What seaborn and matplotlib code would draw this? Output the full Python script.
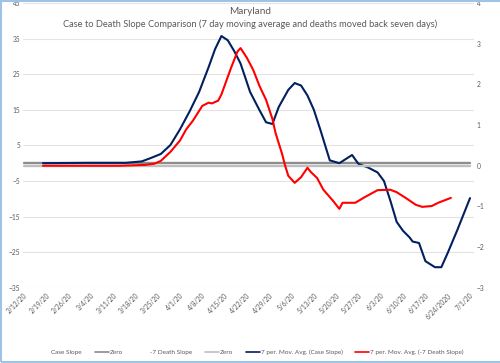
import pandas as pd
import matplotlib
matplotlib.use("Agg")
import matplotlib.pyplot as plt
from matplotlib.lines import Line2D
from matplotlib.patches import Rectangle
import seaborn as sns

# 7 day moving average of the case slope (left axis)
case_dates = ["2020-02-18", "2020-03-03", "2020-03-15", "2020-03-20", "2020-03-23", "2020-03-26",
              "2020-03-29", "2020-04-01", "2020-04-04", "2020-04-07", "2020-04-10", "2020-04-12",
              "2020-04-14", "2020-04-16", "2020-04-18", "2020-04-20", "2020-04-23", "2020-04-26",
              "2020-04-28", "2020-04-30", "2020-05-02", "2020-05-05", "2020-05-07", "2020-05-09",
              "2020-05-11", "2020-05-13", "2020-05-15", "2020-05-18", "2020-05-21", "2020-05-25",
              "2020-05-27", "2020-05-30", "2020-06-02", "2020-06-04", "2020-06-06", "2020-06-08",
              "2020-06-10", "2020-06-12", "2020-06-13", "2020-06-15", "2020-06-17", "2020-06-20",
              "2020-06-22", "2020-06-24", "2020-06-27", "2020-07-01"]
case_avg = [0, 0.1, 0.1, 0.5, 1.5, 2.6,
            5.1, 9.5, 14.5, 20, 27, 32,
            35.7, 34.5, 31.5, 28, 20, 14.8,
            11.5, 11, 15.8, 20.6, 22.5, 21.8,
            19, 15, 9.5, 0.8, 0, 2.3,
            -0.2, -1.2, -2.6, -5, -10.5, -16.5,
            -19, -20.8, -22, -22.4, -27.5, -29.2,
            -29.2, -25.2, -18.8, -9.8]

# 7 day moving average of the death slope moved back seven days (right axis)
death_dates = ["2020-02-18", "2020-03-13", "2020-03-21", "2020-03-24", "2020-03-26", "2020-03-29",
               "2020-04-01", "2020-04-03", "2020-04-05", "2020-04-08", "2020-04-10", "2020-04-11",
               "2020-04-13", "2020-04-14", "2020-04-17", "2020-04-19", "2020-04-20", "2020-04-22",
               "2020-04-24", "2020-04-26", "2020-04-28", "2020-04-30", "2020-05-01", "2020-05-03",
               "2020-05-04", "2020-05-05", "2020-05-07", "2020-05-09", "2020-05-11", "2020-05-12",
               "2020-05-14", "2020-05-16", "2020-05-19", "2020-05-21", "2020-05-22", "2020-05-26",
               "2020-05-29", "2020-06-02", "2020-06-06", "2020-06-08", "2020-06-11", "2020-06-14",
               "2020-06-16", "2020-06-19", "2020-06-21", "2020-06-25"]
death_avg = [0, 0, 0.02, 0.05, 0.12, 0.34,
             0.62, 0.9, 1.1, 1.47, 1.55, 1.53,
             1.6, 1.75, 2.4, 2.8, 2.89, 2.65,
             2.35, 1.95, 1.62, 1.15, 0.8, 0.3,
             0.0, -0.25, -0.42, -0.28, -0.05, -0.15,
             -0.3, -0.59, -0.86, -1.06, -0.91, -0.91,
             -0.77, -0.6, -0.59, -0.65, -0.8, -0.96,
             -1.01, -0.99, -0.91, -0.79]

zero_dates = ["2020-02-12", "2020-07-01"]
zero_vals = [0, 0]

tick_dates = pd.date_range("2020-02-12", "2020-07-01", freq="7D")
tick_labels = ["2/12/20", "2/19/20", "2/26/20", "3/4/20", "3/11/20", "3/18/20", "3/25/20",
               "4/1/20", "4/8/20", "4/15/20", "4/22/20", "4/29/20", "5/6/20", "5/13/20",
               "5/20/20", "5/27/20", "6/3/20", "6/10/20", "6/17/20", "6/24/2020", "7/1/20"]

case_df = pd.DataFrame({"date": pd.to_datetime(case_dates), "v": case_avg})
death_df = pd.DataFrame({"date": pd.to_datetime(death_dates), "v": death_avg})
zero_df = pd.DataFrame({"date": pd.to_datetime(zero_dates), "v": zero_vals})

sns.set_style("white")
plt.rcParams["font.family"] = ["Lato", "DejaVu Sans"]
txt = "#595959"

fig = plt.figure(figsize=(5, 3.63), dpi=100)
ax = fig.add_axes([0.046, 0.207, 0.902, 0.785])
ax2 = ax.twinx()

navy = "#002060"
red = "#FF0000"

sns.lineplot(data=zero_df, x="date", y="v", ax=ax, color="#8C8C8C", lw=1.7)
sns.lineplot(data=zero_df, x="date", y="v", ax=ax2, color="#BFBFBF", lw=1.7)
sns.lineplot(data=case_df, x="date", y="v", ax=ax, color=navy, lw=1.5)
sns.lineplot(data=death_df, x="date", y="v", ax=ax2, color=red, lw=1.5)

ax.set_ylim(-35, 45)
ax.set_yticks(range(-35, 46, 10))
ax2.set_ylim(-3, 4)
ax2.set_yticks(range(-3, 5))
ax.set_xlim(pd.Timestamp("2020-02-11 18:00"), pd.Timestamp("2020-07-02 06:00"))
ax.set_xticks(tick_dates)
ax.set_xticklabels(tick_labels, rotation=45, ha="right", rotation_mode="anchor")

ax.grid(axis="y", color="#E3E3E3", lw=0.8)
ax.set_axisbelow(True)
ax2.grid(False)
for a in (ax, ax2):
    for s in a.spines.values():
        s.set_visible(False)
    a.tick_params(length=0, labelsize=4.8, colors=txt, pad=2)
    a.set_xlabel("")
    a.set_ylabel("")
ax.tick_params(axis="x", pad=3)

fig.text(0.5, 0.967, "Maryland", ha="center", va="center", fontsize=7.2, color=txt)
fig.text(0.5, 0.934, "Case to Death Slope Comparison (7 day moving average and deaths moved back seven days)",
         ha="center", va="center", fontsize=6.7, color=txt)

handles = [Line2D([], [], color="none"),
           Line2D([], [], color="#8C8C8C", lw=1.2),
           Line2D([], [], color="none"),
           Line2D([], [], color="#BFBFBF", lw=1.2),
           Line2D([], [], color=navy, lw=1.2),
           Line2D([], [], color=red, lw=1.2)]
labels = ["Case Slope", "Zero", "-7 Death Slope", "Zero",
          "7 per. Mov. Avg. (Case Slope)", "7 per. Mov. Avg. (-7 Death Slope)"]
fig.legend(handles, labels, loc="center", bbox_to_anchor=(0.5, 0.03), ncol=6, frameon=False,
           fontsize=4.6, handlelength=2.2, handletextpad=0.1, columnspacing=2.0,
           labelcolor=txt)

fig.patches.append(Rectangle((0.002, 0.003), 1.2, 0.994, transform=fig.transFigure,
                             fill=False, edgecolor="#9DC3E6", lw=1.5))

fig.savefig("out.png", dpi=100)
